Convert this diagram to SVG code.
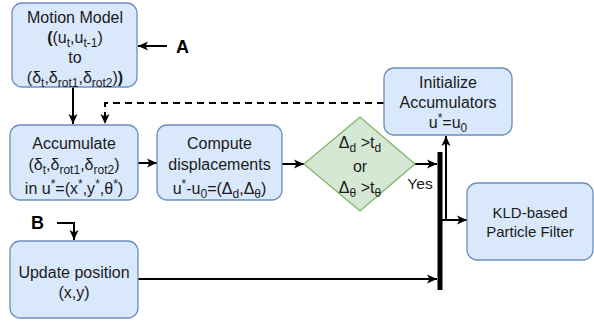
<svg xmlns="http://www.w3.org/2000/svg" width="594" height="324" viewBox="0 0 594 324">
<defs>
<marker id="arr" markerUnits="userSpaceOnUse" markerWidth="12" markerHeight="12" viewBox="0 0 12 12" refX="11" refY="6" orient="auto">
<path d="M1,1.5 L11,6 L1,10.5 L3.5,6 Z" fill="#000"/>
</marker>
</defs>
<style>
.box{fill:#dae8fc;stroke:#6c8ebf;stroke-width:1.3}
.dia{fill:#d5e8d4;stroke:#82b366;stroke-width:1.3}
.t{font-family:"Liberation Sans",Arial,sans-serif;font-size:16px;fill:#1a1a1a;text-anchor:middle}
.s{font-size:12px}
.lbl{font-family:"Liberation Sans",Arial,sans-serif;font-size:18px;font-weight:bold;fill:#000}
.ln{fill:none;stroke:#000;stroke-width:2}
</style>
<g id="connectors">
<path class="ln" d="M73,87 V124" marker-end="url(#arr)"/>
<path class="ln" d="M384,103 H105 V124" stroke-dasharray="7,5" marker-end="url(#arr)"/>
<path class="ln" d="M167,46 H138" marker-end="url(#arr)"/>
<path class="ln" d="M57,223 H74 V240" marker-end="url(#arr)"/>
<path class="ln" d="M138,163 H157" marker-end="url(#arr)"/>
<path class="ln" d="M282,164 H304" marker-end="url(#arr)"/>
<path class="ln" d="M415,164 H437" marker-end="url(#arr)"/>
<path class="ln" d="M138,279 H437" marker-end="url(#arr)"/>
<path d="M440,152 V290" stroke="#000" stroke-width="5" fill="none"/>
<path class="ln" d="M446,220 V136" marker-end="url(#arr)"/>
<path class="ln" d="M442,220 H467" marker-end="url(#arr)"/>
</g>
<g id="motion-model">
<rect class="box" x="12" y="3" width="125" height="84" rx="10"/>
<text class="t" x="75" y="23">Motion Model</text>
<text class="t" x="75" y="43"><tspan font-weight="bold">(</tspan>(u<tspan class="s" dy="4">t</tspan><tspan dy="-4">,u</tspan><tspan class="s" dy="4">t-1</tspan><tspan dy="-4">)</tspan></text>
<text class="t" x="75" y="63">to</text>
<text class="t" x="75" y="83">(δ<tspan class="s" dy="4">t</tspan><tspan dy="-4">,δ</tspan><tspan class="s" dy="4">rot1</tspan><tspan dy="-4">,δ</tspan><tspan class="s" dy="4">rot2</tspan><tspan dy="-4">)</tspan><tspan font-weight="bold">)</tspan></text>
</g>
<g id="label-a"><text class="lbl" x="176" y="53">A</text></g>
<g id="label-b"><text class="lbl" x="31" y="229">B</text></g>
<g id="accumulate">
<rect class="box" x="10" y="125" width="128" height="75" rx="10"/>
<text class="t" x="74" y="149">Accumulate</text>
<text class="t" x="74" y="170">(δ<tspan class="s" dy="4">t</tspan><tspan dy="-4">,δ</tspan><tspan class="s" dy="4">rot1</tspan><tspan dy="-4">,δ</tspan><tspan class="s" dy="4">rot2</tspan><tspan dy="-4">)</tspan></text>
<text class="t" x="74" y="194">in u<tspan class="s" dy="-6">*</tspan><tspan dy="6">=(x</tspan><tspan class="s" dy="-6">*</tspan><tspan dy="6">,y</tspan><tspan class="s" dy="-6">*</tspan><tspan dy="6">,θ</tspan><tspan class="s" dy="-6">*</tspan><tspan dy="6">)</tspan></text>
</g>
<g id="compute">
<rect class="box" x="157" y="125" width="125" height="75" rx="10"/>
<text class="t" x="219.5" y="149">Compute</text>
<text class="t" x="219.5" y="170">displacements</text>
<text class="t" x="219.5" y="194">u<tspan class="s" dy="-6">*</tspan><tspan dy="6">-u</tspan><tspan class="s" dy="4">0</tspan><tspan dy="-4">=(Δ</tspan><tspan class="s" dy="4">d</tspan><tspan dy="-4">,Δ</tspan><tspan class="s" dy="4">θ</tspan><tspan dy="-4">)</tspan></text>
</g>
<g id="decision">
<polygon class="dia" points="304,164 360,117 415,164 360,211"/>
<text class="t" x="360" y="148">Δ<tspan class="s" dy="4">d</tspan><tspan dy="-4"> &gt;t</tspan><tspan class="s" dy="4">d</tspan></text>
<text class="t" x="360" y="172">or</text>
<text class="t" x="360" y="193">Δ<tspan class="s" dy="4">θ</tspan><tspan dy="-4"> &gt;t</tspan><tspan class="s" dy="4">θ</tspan></text>
<text class="t" x="420" y="189" style="font-size:15.5px">Yes</text>
</g>
<g id="initialize">
<rect class="box" x="384" y="68" width="128" height="67" rx="10"/>
<text class="t" x="448" y="88">Initialize</text>
<text class="t" x="448" y="108">Accumulators</text>
<text class="t" x="448" y="128">u<tspan class="s" dy="-6">*</tspan><tspan dy="6">=u</tspan><tspan class="s" dy="4">0</tspan></text>
</g>
<g id="kld">
<rect class="box" x="467" y="183" width="126" height="77" rx="10"/>
<text class="t" x="530" y="218" style="font-size:15px">KLD-based</text>
<text class="t" x="530" y="237" style="font-size:15px">Particle Filter</text>
</g>
<g id="update-position">
<rect class="box" x="10" y="241" width="128" height="77" rx="10"/>
<text class="t" x="74" y="278">Update position</text>
<text class="t" x="74" y="298">(x,y)</text>
</g>
</svg>
